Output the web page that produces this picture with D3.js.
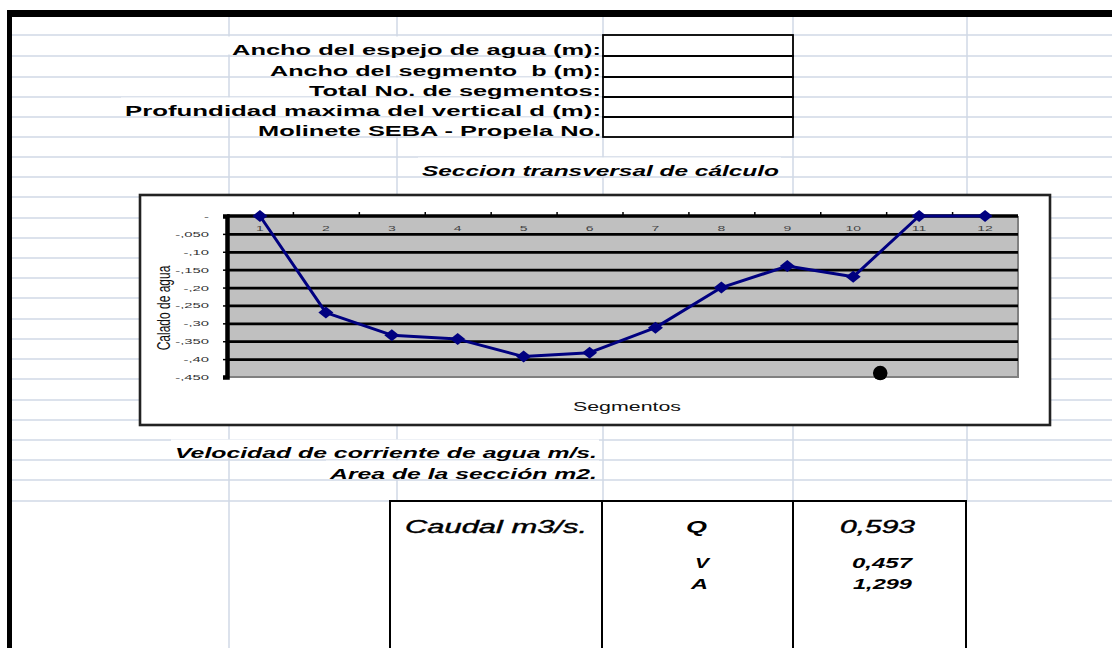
<!DOCTYPE html>
<html>
<head>
<meta charset="utf-8">
<script src="https://cdn.jsdelivr.net/npm/d3@7/dist/d3.min.js"></script>
<style>
  html, body { margin: 0; padding: 0; background: #ffffff; }
  svg { display: block; }
  text { font-family: "Liberation Sans", Arial, sans-serif; white-space: pre; }
</style>
</head>
<body>
<div id="chart"></div>
<script>
// ---------------- DATA ----------------
const segments = [1, 2, 3, 4, 5, 6, 7, 8, 9, 10, 11, 12];
const depthValues = [0, -0.27, -0.333, -0.344, -0.393, -0.382, -0.312, -0.20, -0.14, -0.17, 0, 0];
const yTickValues = [0, -0.05, -0.10, -0.15, -0.20, -0.25, -0.30, -0.35, -0.40, -0.45];
const yTickLabels = ["-", "-,050", "-,10", "-,150", "-,20", "-,250", "-,30", "-,350", "-,40", "-,450"];
const strayPoint = [{ segment: 10.41, value: -0.439 }];

const formLabels = [
  "Ancho del espejo de agua (m):",
  "Ancho del segmento  b (m):",
  "Total No. de segmentos:",
  "Profundidad maxima del vertical d (m):",
  "Molinete SEBA - Propela No."
];
const chartTitle = "Seccion transversal de cálculo";
const xAxisTitle = "Segmentos";
const yAxisTitle = "Calado de agua";
const summaryLabels = ["Velocidad de corriente de agua m/s.", "Area de la sección m2."];
const flowLabel = "Caudal m3/s.";
const resultSymbols = ["Q", "V", "A"];
const resultValues = ["0,593", "0,457", "1,299"];

// ---------------- LAYOUT ----------------
const W = 1112, H = 648;
const svg = d3.select("#chart").append("svg").attr("width", W).attr("height", H);
const gridColor = "#d0d8e6";
const rows = [35, 56, 77, 97, 117, 137, 157, 177, 197, 218, 238, 258, 278, 298, 319, 339, 359, 379, 400, 420, 440, 460, 480];

const grid = svg.append("g");
rows.forEach(y => grid.append("line").attr("x1", 12).attr("x2", W).attr("y1", y).attr("y2", y)
  .attr("stroke", gridColor).attr("stroke-width", 1.5));
[[12, 390], [966, W]].forEach(([a, b]) => grid.append("line").attr("x1", a).attr("x2", b)
  .attr("y1", 501).attr("y2", 501).attr("stroke", gridColor).attr("stroke-width", 1.5));
const vsegs = [
  [229, 17, 195], [229, 425, 648],
  [397, 17, 195], [397, 425, 501],
  [603, 17, 35], [603, 137, 195], [603, 425, 501],
  [793, 17, 195], [793, 425, 501],
  [967, 17, 195], [967, 425, 501]
];
vsegs.forEach(([x, a, b]) => grid.append("line").attr("x1", x).attr("x2", x).attr("y1", a).attr("y2", b)
  .attr("stroke", gridColor).attr("stroke-width", 1.5));

const masks = svg.append("g");
const texts = svg.append("g");

function label(s, left, width, baseline, size, weight, style, opts) {
  opts = opts || {};
  if (!opts.noMask) {
    masks.append("rect").attr("x", left - 4).attr("y", baseline - 18.5)
      .attr("width", width + 6).attr("height", 18).attr("fill", "#fff");
  }
  const t = texts.append("text").attr("x", left).attr("y", baseline)
    .attr("textLength", width).attr("lengthAdjust", "spacingAndGlyphs")
    .attr("font-size", size).attr("font-weight", weight).attr("font-style", style)
    .attr("fill", opts.fill || "#000").text(s);
  if (opts.stroke) t.attr("stroke", "#000").attr("stroke-width", opts.stroke);
}

// page frame
svg.append("rect").attr("x", 7).attr("y", 10).attr("width", W - 7).attr("height", 7).attr("fill", "#000");
svg.append("rect").attr("x", 7).attr("y", 10).attr("width", 5).attr("height", H - 10).attr("fill", "#000");

// form labels (right aligned to 601)
const formLeft = [232, 270, 309, 125, 258];
const formBase = [55, 76, 96, 116, 136];
formLabels.forEach((s, i) => label(s, formLeft[i], 601 - formLeft[i], formBase[i], 14, "bold", "normal"));
// input boxes
for (let i = 0; i < 5; i++) {
  svg.append("rect").attr("x", 603).attr("y", [35, 56, 77, 97, 117][i]).attr("width", 190)
    .attr("height", [21, 21, 20, 20, 20][i]).attr("fill", "none").attr("stroke", "#000").attr("stroke-width", 1.8);
}

label(chartTitle, 422, 357, 176, 15, "bold", "italic");

// ---------------- CHART ----------------
const chartG = svg.append("g");
chartG.append("rect").attr("x", 140).attr("y", 195).attr("width", 910).attr("height", 230)
  .attr("fill", "#fff").attr("stroke", "#222").attr("stroke-width", 2.6);

const x = d3.scaleLinear().domain([0.5, 12.5]).range([227, 1018]);
const y = d3.scaleLinear().domain([-0.45, 0]).range([377, 216]);

chartG.append("rect").attr("x", x(0.5)).attr("y", y(0)).attr("width", x(12.5) - x(0.5))
  .attr("height", y(-0.45) - y(0)).attr("fill", "#c0c0c0");
// plot border (right, bottom)
chartG.append("path").attr("d", `M${x(12.5)},${y(0)}V${y(-0.45)}H${x(0.5)}`)
  .attr("fill", "none").attr("stroke", "#808080").attr("stroke-width", 2);

// gridlines
chartG.append("g").attr("transform", `translate(${x(0.5)},0)`)
  .call(d3.axisLeft(y).tickValues(yTickValues.filter(v => v < 0 && v > -0.45))
    .tickSize(-(x(12.5) - x(0.5))).tickFormat(""))
  .call(g => g.select(".domain").remove())
  .call(g => g.selectAll("line").attr("stroke", "#000").attr("stroke-width", 2.8));

// y axis
const yAxis = chartG.append("g").attr("transform", `translate(${x(0.5)},0)`)
  .call(d3.axisLeft(y).tickValues(yTickValues).tickSize(4).tickFormat(""));
yAxis.select(".domain").attr("stroke", "#000").attr("stroke-width", 4.5);
yAxis.selectAll("line").attr("stroke", "#000").attr("stroke-width", 1.5);
chartG.append("g").selectAll("text").data(yTickValues).join("text")
  .attr("transform", (d, i) => `translate(209,${y(d) + 3}) scale(1.85,1)`)
  .attr("text-anchor", "end").attr("font-size", 8).attr("fill", "#333")
  .text((d, i) => yTickLabels[i]);

// x axis (at value 0, top)
chartG.append("line").attr("x1", x(0.5)).attr("x2", x(12.5)).attr("y1", y(0)).attr("y2", y(0))
  .attr("stroke", "#000").attr("stroke-width", 3.5);
const xAxis = chartG.append("g").attr("transform", `translate(0,${y(0)})`)
  .call(d3.axisTop(x).tickValues(segments.slice(0, 11).map(d => d + 0.5)).tickSize(4).tickFormat(""));
xAxis.select(".domain").remove();
xAxis.selectAll("line").attr("stroke", "#000").attr("stroke-width", 1.5);
chartG.append("g").selectAll("text").data(segments).join("text")
  .attr("transform", d => `translate(${x(d)},${y(0) + 15}) scale(1.75,1)`)
  .attr("text-anchor", "middle").attr("font-size", 8).attr("fill", "#444")
  .text(d => d);

// series
const pts = segments.map((s, i) => ({ s, v: depthValues[i] }));
chartG.append("path").datum(pts)
  .attr("d", d3.line().x(d => x(d.s)).y(d => y(d.v)))
  .attr("fill", "none").attr("stroke", "#000080").attr("stroke-width", 3).attr("stroke-linejoin", "round");
chartG.append("g").selectAll("path").data(pts).join("path")
  .attr("d", "M0,-6L7.5,0L0,6L-7.5,0Z")
  .attr("transform", d => `translate(${x(d.s)},${y(d.v)})`)
  .attr("fill", "#000080");

chartG.append("g").selectAll("circle").data(strayPoint).join("circle")
  .attr("cx", d => x(d.segment)).attr("cy", d => y(d.value)).attr("r", 7.3).attr("fill", "#000");

// axis titles
chartG.append("text").attr("x", 573).attr("y", 411).attr("textLength", 108).attr("lengthAdjust", "spacingAndGlyphs")
  .attr("font-size", 12.5).attr("fill", "#111").text(xAxisTitle);
chartG.append("text").attr("transform", "translate(170,308) scale(1.6,1) rotate(-90)")
  .attr("text-anchor", "middle").attr("font-size", 12).attr("fill", "#111").text(yAxisTitle);

// ---------------- SUMMARY ----------------
label(summaryLabels[0], 175, 422, 458, 14, "bold", "italic");
label(summaryLabels[1], 330, 267, 479, 14, "bold", "italic");

const tbl = svg.append("g");
tbl.append("line").attr("x1", 390).attr("x2", 967).attr("y1", 501).attr("y2", 501).attr("stroke", "#000").attr("stroke-width", 2);
[390, 602, 793, 966].forEach(xx => tbl.append("line").attr("x1", xx).attr("x2", xx).attr("y1", 500).attr("y2", H)
  .attr("stroke", "#000").attr("stroke-width", 2));

label(flowLabel, 405, 182, 533, 18, "normal", "italic", { noMask: true, stroke: 0.4 });
label(resultSymbols[0], 686, 21, 533, 17, "bold", "italic", { noMask: true });
label(resultValues[0], 840, 75, 533, 18, "normal", "italic", { noMask: true, stroke: 0.4 });
label(resultSymbols[1], 695, 14, 568, 14, "bold", "italic", { noMask: true });
label(resultSymbols[2], 691, 17, 589, 14, "bold", "italic", { noMask: true });
label(resultValues[1], 852, 60, 568, 14, "bold", "italic", { noMask: true });
label(resultValues[2], 853, 59, 589, 14, "bold", "italic", { noMask: true });
</script>
</body>
</html>
